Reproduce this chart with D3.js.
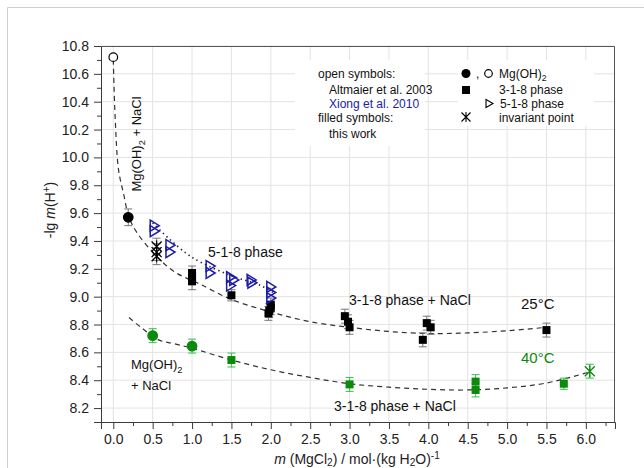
<!DOCTYPE html>
<html><head><meta charset="utf-8">
<script src="https://cdn.jsdelivr.net/npm/d3@7/dist/d3.min.js"></script>
<style>
html,body{margin:0;padding:0;background:#fff;}
svg{display:block;font-family:"Liberation Sans",Arial,sans-serif;}
</style></head>
<body>
<svg id="c" width="644" height="468"></svg>
<script>
// ---------- data ----------
const xMajorTicks = [0,0.5,1,1.5,2,2.5,3,3.5,4,4.5,5,5.5,6];
const yMajorTicks = [8.2,8.4,8.6,8.8,9.0,9.2,9.4,9.6,9.8,10.0,10.2,10.4,10.6,10.8];
// [x, y, err]
const openCircle25 = [[0.0, 10.72]];
const circle25 = [[0.19, 9.57, 0.06]];
const square25 = [[1.0,9.17,0.05],[1.0,9.14,0.05],[1.0,9.11,0.06],[1.5,9.01,0.04],
  [1.97,8.88,0.05],[1.98,8.90,0.05],[2.0,8.92,0.05],[2.0,8.94,0.05],
  [2.94,8.86,0.05],[2.98,8.82,0.05],[3.0,8.78,0.05],
  [3.98,8.81,0.05],[4.03,8.78,0.05],[3.93,8.69,0.05],[5.5,8.76,0.05]];
const star25 = [[0.55,9.36,0.06],[0.55,9.32,0.06],[0.55,9.29,0.06]];
const triangle518 = [[0.52,9.51],[0.52,9.47],[0.72,9.37],[0.72,9.32],[1.23,9.22],[1.23,9.17],
  [1.49,9.14],[1.49,9.08],[1.53,9.12],[1.75,9.12],[1.76,9.10],[2.0,9.07],[2.0,9.03],[2.0,8.99]];
const circle40 = [[0.5,8.72,0.05],[1.0,8.645,0.05]];
const square40 = [[1.5,8.545,0.05],[3.0,8.37,0.05],[4.6,8.39,0.05],[4.6,8.33,0.05],[5.72,8.375,0.04]];
const star40 = [[6.05,8.465,0.05]];
const fit25 = [[0,10.70],[0.025,10.27],[0.067,9.91],[0.13,9.74],[0.2,9.57],[0.3,9.46],[0.5,9.32],
  [0.64,9.24],[0.8,9.17],[1.1,9.09],[1.5,8.98],[2.0,8.89],[2.5,8.82],[3.0,8.78],[3.5,8.75],
  [4.0,8.735],[4.5,8.74],[5.0,8.755],[5.5,8.78]];
const fit40 = [[0.2,8.85],[0.35,8.78],[0.575,8.69],[0.75,8.665],[1.0,8.63],[1.5,8.545],[2.0,8.475],
  [2.5,8.42],[3.0,8.375],[3.5,8.35],[4.0,8.335],[4.5,8.33],[5.0,8.345],[5.5,8.38],[6.05,8.46]];
const fit518 = [[0.5,9.53],[0.7,9.42],[0.93,9.31],[1.1,9.25],[1.5,9.15],[1.87,9.08],[2.06,9.02]];

// ---------- setup ----------
const svg = d3.select('#c');
const L=101, R=615, T=46, B=422;
const x = d3.scaleLinear().domain([-0.156, 6.37]).range([L, R]);
const y = d3.scaleLinear().domain([8.1, 10.8]).range([B, T]);
const BLUE = '#1c1ca8', GREEN = '#0b8a0b', GREENBAR = '#33c04a';

// outer light frame
svg.append('path').attr('d','M7.5,468 V7.5 H644').attr('fill','none').attr('stroke','#cfcfcf');

// grid
const grid = svg.append('g').attr('stroke','#e3e3e3').attr('stroke-width',1);
xMajorTicks.forEach(v=>grid.append('line').attr('x1',x(v)).attr('x2',x(v)).attr('y1',T).attr('y2',B));
yMajorTicks.forEach(v=>grid.append('line').attr('y1',y(v)).attr('y2',y(v)).attr('x1',L).attr('x2',R));

// legend background boxes (hide grid)
svg.append('rect').attr('x',295).attr('y',60).attr('width',130).attr('height',86).attr('fill','#fff');
svg.append('rect').attr('x',458).attr('y',60).attr('width',136).attr('height',66).attr('fill','#fff');

// axes
const xMinor = d3.range(0,6.3,0.25).filter(v=>Math.abs(v*2-Math.round(v*2))>0.01);
const yMinor = d3.range(8.1,10.81,0.2).map(v=>+v.toFixed(1));
svg.append('g').attr('transform',`translate(0,${B})`)
  .call(d3.axisBottom(x).tickValues(xMajorTicks).tickFormat(d3.format('.1f')).tickSize(7).tickPadding(5));
svg.append('g').attr('transform',`translate(0,${B})`)
  .call(d3.axisBottom(x).tickValues(xMinor).tickFormat('').tickSize(4)).select('.domain').remove();
svg.append('g').attr('transform',`translate(${L},0)`)
  .call(d3.axisLeft(y).tickValues(yMajorTicks).tickFormat(d3.format('.1f')).tickSize(7).tickPadding(5));
svg.append('g').attr('transform',`translate(${L},0)`)
  .call(d3.axisLeft(y).tickValues(yMinor).tickFormat('').tickSize(4)).select('.domain').remove();
svg.selectAll('.tick text').attr('font-size',14).attr('fill','#222').attr('font-family','"Liberation Sans",Arial,sans-serif');
svg.selectAll('.domain, .tick line').attr('stroke','#3a3a3a');
// frame top/right
svg.append('path').attr('d',`M${L},${T}.5 H${R-0.5} V${B}`).attr('fill','none').attr('stroke','#555');

// fit curves
const lineN = d3.line().x(d=>x(d[0])).y(d=>y(d[1])).curve(d3.curveCatmullRom);
svg.append('path').attr('d',lineN(fit25)).attr('fill','none').attr('stroke','#333').attr('stroke-width',1.2).attr('stroke-dasharray','5,4');
svg.append('path').attr('d',lineN(fit40)).attr('fill','none').attr('stroke','#333').attr('stroke-width',1.2).attr('stroke-dasharray','5,4');
svg.append('path').attr('d',lineN(fit518)).attr('fill','none').attr('stroke','#222').attr('stroke-width',1.6).attr('stroke-dasharray','1.4,3.4');

// error bars
function errBars(data,color){
  const g = svg.append('g').attr('stroke',color).attr('stroke-width',1);
  data.forEach(d=>{
    const cx=x(d[0]), y1=y(d[1]+d[2]), y2=y(d[1]-d[2]);
    g.append('line').attr('x1',cx).attr('x2',cx).attr('y1',y1).attr('y2',y2);
    g.append('line').attr('x1',cx-4).attr('x2',cx+4).attr('y1',y1).attr('y2',y1);
    g.append('line').attr('x1',cx-4).attr('x2',cx+4).attr('y1',y2).attr('y2',y2);
  });
}
errBars(circle25,'#777'); errBars(square25,'#777'); errBars(star25,'#777');
errBars(circle40,GREENBAR); errBars(square40,GREENBAR); errBars(star40,GREENBAR);

const starPath = 'M0,-6V6M-5,-5L5,5M-5,5L5,-5';
const triPath = 'M-4,-5.5L5,0L-4,5.5Z';
function circles(data,fill,stroke,r){
  svg.append('g').selectAll('circle').data(data).join('circle')
    .attr('cx',d=>x(d[0])).attr('cy',d=>y(d[1])).attr('r',r).attr('fill',fill).attr('stroke',stroke).attr('stroke-width',1.2);
}
function squares(data,fill){
  svg.append('g').selectAll('path').data(data).join('path')
    .attr('transform',d=>`translate(${x(d[0])},${y(d[1])})`)
    .attr('d',d3.symbol(d3.symbolSquare,64)).attr('fill',fill);
}
function stars(data,color){
  svg.append('g').selectAll('path').data(data).join('path')
    .attr('transform',d=>`translate(${x(d[0])},${y(d[1])})`)
    .attr('d',starPath).attr('stroke',color).attr('stroke-width',1.3).attr('fill','none');
}
circles(openCircle25,'#fff','#000',4.3);
circles(circle25,'#000','#000',4.8);
squares(square25,'#000');
stars(star25,'#000');
svg.append('g').selectAll('path').data(triangle518).join('path')
  .attr('transform',d=>`translate(${x(d[0])},${y(d[1])})`)
  .attr('d',triPath).attr('fill','none').attr('stroke',BLUE).attr('stroke-width',1.5);
circles(circle40,GREEN,GREEN,4.8);
squares(square40,GREEN);
stars(star40,GREEN);

// helper for rich text
function rich(parent, parts, attrs, subShift){
  const sb = subShift===undefined?3.5:subShift;
  const t = parent.append('text');
  Object.entries(attrs).forEach(([k,v])=>t.attr(k,v));
  let shift=0;
  parts.forEach(p=>{
    const s = t.append('tspan').text(p.t);
    let target = p.sub?sb:(p.sup?-5:0);
    if(target!==shift){ s.attr('dy',target-shift); shift=target; }
    if(p.sub||p.sup) s.attr('font-size','0.72em');
    if(p.i) s.attr('font-style','italic');
    if(p.fill) s.attr('fill',p.fill);
  });
  return t;
}

// axis labels
rich(svg,[{t:'-lg '},{t:'m',i:1},{t:'(H'},{t:'+',sup:1},{t:')'}],
  {transform:'translate(55,210) rotate(-90)','text-anchor':'middle','font-size':14,fill:'#222'});
rich(svg,[{t:'m',i:1},{t:' (MgCl'},{t:'2',sub:1},{t:') / mol·(kg H'},{t:'2',sub:1},{t:'O)'},{t:'-1',sup:1}],
  {x:357,y:463.5,'text-anchor':'middle','font-size':14,fill:'#222'},2.5);

// annotations
rich(svg,[{t:'Mg(OH)'},{t:'2',sub:1},{t:' + NaCl'}],
  {transform:'translate(141,144) rotate(-90)','text-anchor':'middle','font-size':13,fill:'#111'});
svg.append('text').attr('x',208).attr('y',257).attr('font-size',14).attr('fill','#111').text('5-1-8 phase');
svg.append('text').attr('x',349).attr('y',305).attr('font-size',14).attr('fill','#111').text('3-1-8 phase + NaCl');
svg.append('text').attr('x',334).attr('y',411).attr('font-size',14).attr('fill','#111').text('3-1-8 phase + NaCl');
svg.append('text').attr('x',521).attr('y',309).attr('font-size',15).attr('fill','#111').text('25°C');
svg.append('text').attr('x',521).attr('y',363).attr('font-size',15).attr('fill',GREEN).text('40°C');
rich(svg,[{t:'Mg(OH)'},{t:'2',sub:1}],{x:131,y:369,'font-size':13,fill:'#111'});
svg.append('text').attr('x',131).attr('y',390).attr('font-size',13).attr('fill','#111').text('+ NaCl');

// legend left
const lg = svg.append('g').attr('font-size',12).attr('fill','#111');
lg.append('text').attr('x',318).attr('y',77.5).text('open symbols:');
lg.append('text').attr('x',329).attr('y',94).text('Altmaier et al. 2003');
lg.append('text').attr('x',329).attr('y',107.5).attr('fill',BLUE).text('Xiong et al. 2010');
lg.append('text').attr('x',318).attr('y',122).text('filled symbols:');
lg.append('text').attr('x',329).attr('y',137.5).text('this work');

// legend right
svg.append('circle').attr('cx',466).attr('cy',73.5).attr('r',4.5).attr('fill','#000');
lg.append('text').attr('x',476).attr('y',77.5).text(',');
svg.append('circle').attr('cx',488.5).attr('cy',73.5).attr('r',3.8).attr('fill','#fff').attr('stroke','#000').attr('stroke-width',1.2);
rich(lg,[{t:'Mg(OH)'},{t:'2',sub:1}],{x:499,y:77.5});
svg.append('rect').attr('x',462).attr('y',86).attr('width',8).attr('height',8).attr('fill','#000');
lg.append('text').attr('x',499).attr('y',94).text('3-1-8 phase');
svg.append('path').attr('transform','translate(489,103.5)').attr('d','M-3,-4L4,0L-3,4Z').attr('fill','none').attr('stroke','#000').attr('stroke-width',1.1);
lg.append('text').attr('x',500).attr('y',107.5).text('5-1-8 phase');
svg.append('path').attr('transform','translate(466,117)').attr('d','M0,-5V5M-4.5,-4.5L4.5,4.5M-4.5,4.5L4.5,-4.5').attr('fill','none').attr('stroke','#000').attr('stroke-width',1.1);
lg.append('text').attr('x',499).attr('y',121.5).text('invariant point');
</script>
</body></html>
